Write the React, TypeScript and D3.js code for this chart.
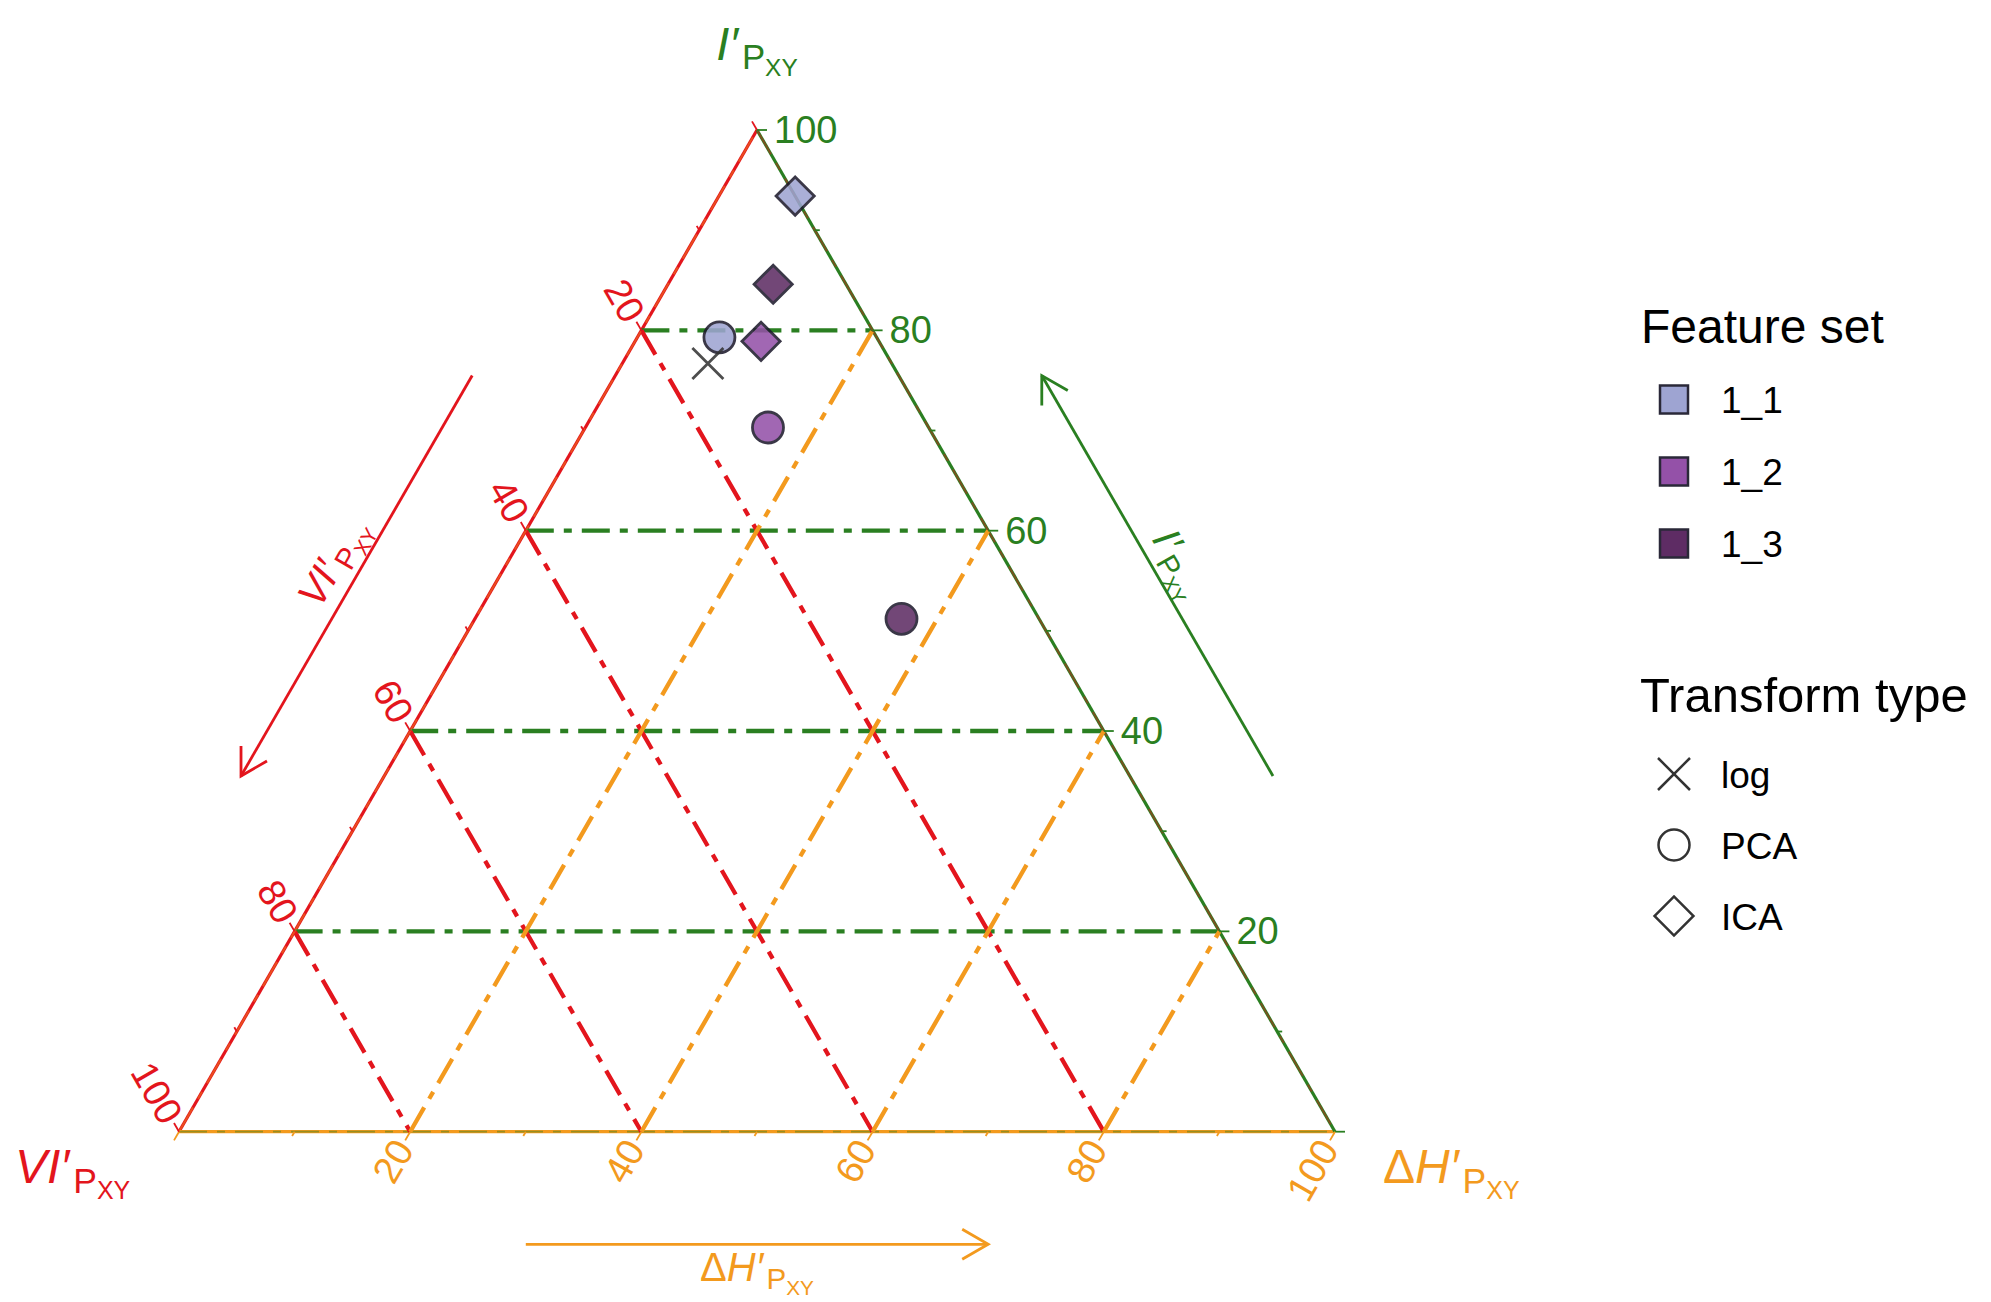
import React from "react";
import * as d3 from "d3";

// ternary data: I' (top), VI' (left), ΔH' (right) in percent
const featureSets = ["1_1", "1_2", "1_3"];
const featureColors = ["#9ea4d2", "#9451a8", "#5e2c64"];
const transformTypes = ["log", "PCA", "ICA"];

const pointFeature = ["1_1", "1_1", "1_1", "1_2", "1_2", "1_3", "1_3"];
const pointTransform = ["ICA", "PCA", "log", "ICA", "PCA", "ICA", "PCA"];
const pointI = [93.4, 79.3, 76.7, 78.9, 70.3, 84.6, 51.2];
const pointVI = [0.0, 13.6, 15.9, 10.2, 13.9, 6.3, 11.9];
const pointDH = [6.6, 7.1, 7.4, 10.9, 15.8, 9.1, 36.9];

const gridValues = [0, 20, 40, 60, 80];
const tickValues = [0, 20, 40, 60, 80, 100];
const minorValues = [10, 30, 50, 70, 90];
const tickLabels = ["20", "40", "60", "80", "100"];

const GREEN = "#2a7f21";
const RED = "#e3151d";
const ORANGE = "#f39a1e";
const FONT = "'Liberation Sans', Arial, sans-serif";

const W = 1991;
const H = 1302;

const yScale = d3.scaleLinear().domain([0, 100]).range([1131.7, 130]);
const xScale = d3.scaleLinear().domain([0, 100]).range([179, 1335]);

// I, VI, DH -> pixel
const project = (i: number, vi: number, dh: number): [number, number] => [
  xScale(dh + i / 2),
  yScale(i),
];

const line = d3.line<[number, number]>();
const S3 = Math.sqrt(3) / 2;

type Vec = [number, number];
const add = (a: Vec, b: Vec, k = 1): Vec => [a[0] + b[0] * k, a[1] + b[1] * k];

// label with subscripts "P" and "XY"
const SubLabel = ({
  pre,
  italic,
  size,
  color,
  x,
  y,
  anchor,
  rotate = 0,
}: {
  pre: string;
  italic: string;
  size: number;
  color: string;
  x: number;
  y: number;
  anchor: "start" | "middle" | "end";
  rotate?: number;
}) => {
  const sub = size * 0.74;
  const subsub = size * 0.52;
  return (
    <text
      transform={`translate(${x},${y}) rotate(${rotate})`}
      textAnchor={anchor}
      fill={color}
      fontFamily={FONT}
      fontSize={size}
    >
      {pre && <tspan>{pre}</tspan>}
      <tspan fontStyle="italic">{italic}</tspan>
      <tspan dx={size * 0.08} dy={size * 0.2} fontSize={sub}>
        P
      </tspan>
      <tspan dy={size * 0.13} fontSize={subsub}>
        XY
      </tspan>
    </text>
  );
};

const Arrow = ({ from, to, color }: { from: Vec; to: Vec; color: string }) => {
  const ang = Math.atan2(to[1] - from[1], to[0] - from[0]);
  const arm = 30;
  const a1: Vec = [to[0] - arm * Math.cos(ang - Math.PI / 6), to[1] - arm * Math.sin(ang - Math.PI / 6)];
  const a2: Vec = [to[0] - arm * Math.cos(ang + Math.PI / 6), to[1] - arm * Math.sin(ang + Math.PI / 6)];
  return (
    <g stroke={color} strokeWidth={2.8} fill="none">
      <path d={line([from, to]) || ""} />
      <path d={line([a1, to, a2]) || ""} />
    </g>
  );
};

const markerPath = (shape: string, big: boolean) => {
  if (shape === "PCA") return d3.symbol(d3.symbolCircle, Math.PI * 15.5 ** 2)() || "";
  if (shape === "ICA") {
    const side = big ? 27 : 27.5;
    return d3.symbol(d3.symbolSquare, side * side)() || "";
  }
  const h = big ? 15.5 : 16;
  return `M${-h},${-h}L${h},${h}M${-h},${h}L${h},${-h}`;
};

const App = () => {
  const top = project(100, 0, 0);
  const left = project(0, 100, 0);
  const right = project(0, 0, 100);

  const dash = "28,10,8,10";

  // gridline endpoints
  const greenLines = gridValues.map((v) => [project(v, 100 - v, 0), project(v, 0, 100 - v)] as [Vec, Vec]);
  const redLines = gridValues.map((v) => [project(100 - v, v, 0), project(0, v, 100 - v)] as [Vec, Vec]);
  const orangeLines = gridValues.map((v) => [project(0, 100 - v, v), project(100 - v, 0, v)] as [Vec, Vec]);

  // outward directions for ticks and labels
  const greenOut: Vec = [1, 0];
  const redOut: Vec = [-0.5, -S3];
  const orangeOut: Vec = [-0.5, S3];

  // axis arrows, parallel to the edges, 0.4 of side length
  const half = (xScale(100) - xScale(0)) * 0.2;
  const leftMid = project(50, 50, 0);
  const rightMid = project(50, 0, 50);
  const redNormal: Vec = [-S3, -0.5];
  const greenNormal: Vec = [S3, -0.5];
  const redMid = add(add(leftMid, redNormal, 124), [-0.5, S3], 8);
  const greenMid = add(add(rightMid, greenNormal, 124), [0.5, S3], 8);
  const redDir: Vec = [-0.5, S3];
  const greenDir: Vec = [-0.5, -S3];
  const orangeY = yScale(0) + 112.6;
  const orangeMidX = xScale(50);

  const colorOf = (f: string) => featureColors[featureSets.indexOf(f)];

  const gridStyle = (i: number) => ({
    strokeWidth: i === 0 ? 1.8 : 4.3,
    opacity: i === 0 ? 0.45 : 1,
  });

  return (
    <svg
      width={W}
      height={H}
      style={{ position: "absolute", left: 0, top: 0, background: "#fff" }}
    >
      {/* edges */}
      <path d={line([top, left]) || ""} stroke={RED} strokeWidth={3.2} fill="none" />
      <path d={line([left, right]) || ""} stroke={ORANGE} strokeWidth={3.2} fill="none" />
      <path d={line([right, top]) || ""} stroke={GREEN} strokeWidth={3.2} fill="none" />

      {/* gridlines */}
      <g fill="none" strokeDasharray={dash}>
        {greenLines.map((l, i) => (
          <path key={"g" + i} d={line(l) || ""} stroke={GREEN} {...gridStyle(i)} />
        ))}
        {redLines.map((l, i) => (
          <path key={"r" + i} d={line(l) || ""} stroke={RED} {...gridStyle(i)} />
        ))}
        {orangeLines.map((l, i) => (
          <path key={"o" + i} d={line(l) || ""} stroke={ORANGE} {...gridStyle(i)} />
        ))}
      </g>

      {/* ticks */}
      <g strokeWidth={1.8}>
        {tickValues.map((v) => {
          const g = project(v, 0, 100 - v);
          const r = project(100 - v, v, 0);
          const o = project(0, 100 - v, v);
          return (
            <g key={"t" + v}>
              <path d={line([g, add(g, greenOut, 10)]) || ""} stroke={GREEN} />
              <path d={line([r, add(r, redOut, 10)]) || ""} stroke={RED} />
              <path d={line([o, add(o, orangeOut, 10)]) || ""} stroke={ORANGE} />
            </g>
          );
        })}
        {minorValues.map((v) => {
          const g = project(v, 0, 100 - v);
          const r = project(100 - v, v, 0);
          const o = project(0, 100 - v, v);
          return (
            <g key={"m" + v}>
              <path d={line([g, add(g, greenOut, 5)]) || ""} stroke={GREEN} />
              <path d={line([r, add(r, redOut, 5)]) || ""} stroke={RED} />
              <path d={line([o, add(o, orangeOut, 5)]) || ""} stroke={ORANGE} />
            </g>
          );
        })}
      </g>

      {/* tick labels */}
      <g fontFamily={FONT} fontSize={38}>
        {tickLabels.map((t) => {
          const v = +t;
          const g = add(project(v, 0, 100 - v), greenOut, 17);
          const r = add(project(100 - v, v, 0), redOut, 13);
          const o = add(project(0, 100 - v, v), orangeOut, 13);
          return (
            <g key={"l" + t}>
              <text x={g[0]} y={g[1]} fill={GREEN} dominantBaseline="central">
                {t}
              </text>
              <text
                transform={`translate(${r[0]},${r[1]}) rotate(60)`}
                fill={RED}
                textAnchor="end"
                dominantBaseline="central"
              >
                {t}
              </text>
              <text
                transform={`translate(${o[0]},${o[1]}) rotate(-60)`}
                fill={ORANGE}
                textAnchor="end"
                dominantBaseline="central"
              >
                {t}
              </text>
            </g>
          );
        })}
      </g>

      {/* axis titles */}
      <SubLabel pre="" italic="I′" size={47} color={GREEN} x={top[0]} y={60} anchor="middle" />
      <SubLabel pre="" italic="VI′" size={48} color={RED} x={15} y={1183} anchor="start" />
      <SubLabel pre="Δ" italic="H′" size={48} color={ORANGE} x={1383} y={1183} anchor="start" />

      {/* arrows */}
      <Arrow from={add(redMid, redDir, -half)} to={add(redMid, redDir, half)} color={RED} />
      <Arrow from={add(greenMid, greenDir, -half)} to={add(greenMid, greenDir, half)} color={GREEN} />
      <Arrow from={[orangeMidX - half, orangeY]} to={[orangeMidX + half, orangeY]} color={ORANGE} />
      {(() => {
        const rp = add(redMid, redNormal, 15);
        const gp = add(greenMid, greenNormal, 13);
        return (
          <>
            <SubLabel pre="" italic="VI′" size={40} color={RED} x={rp[0]} y={rp[1]} anchor="middle" rotate={-60} />
            <SubLabel pre="" italic="I′" size={40} color={GREEN} x={gp[0]} y={gp[1]} anchor="middle" rotate={60} />
            <SubLabel pre="Δ" italic="H′" size={40} color={ORANGE} x={orangeMidX} y={orangeY + 37} anchor="middle" />
          </>
        );
      })()}

      {/* points */}
      <g>
        {pointI.map((iv, k) => {
          const [px, py] = project(iv, pointVI[k], pointDH[k]);
          const shape = pointTransform[k];
          const isCross = shape === "log";
          return (
            <path
              key={"p" + k}
              d={markerPath(shape, true)}
              transform={`translate(${px},${py}) rotate(${shape === "ICA" ? 45 : 0})`}
              fill={isCross ? "none" : colorOf(pointFeature[k])}
              stroke={isCross ? "#333" : "#1d1a2c"}
              strokeWidth={2.8}
              opacity={0.87}
            />
          );
        })}
      </g>

      {/* legend */}
      <g fontFamily={FONT} fill="#000">
        <text x={1641} y={343} fontSize={48}>
          Feature set
        </text>
        {featureSets.map((f, k) => {
          const cy = 399.5 + k * 72;
          return (
            <g key={"lf" + f}>
              <rect x={1660} y={cy - 14} width={28} height={28} fill={featureColors[k]} stroke="#2a2838" strokeWidth={2.5} />
              <text x={1721} y={cy + 13.5} fontSize={37}>
                {f}
              </text>
            </g>
          );
        })}
        <text x={1640} y={712} fontSize={49}>
          Transform type
        </text>
        {transformTypes.map((t, k) => {
          const cy = 774 + k * 71;
          return (
            <g key={"lt" + t}>
              <path
                d={markerPath(t, false)}
                transform={`translate(1674,${cy}) rotate(${t === "ICA" ? 45 : 0})`}
                fill="none"
                stroke="#333"
                strokeWidth={2.5}
              />
              <text x={1721} y={cy + 13.5} fontSize={37}>
                {t}
              </text>
            </g>
          );
        })}
      </g>
    </svg>
  );
};

export default App;
